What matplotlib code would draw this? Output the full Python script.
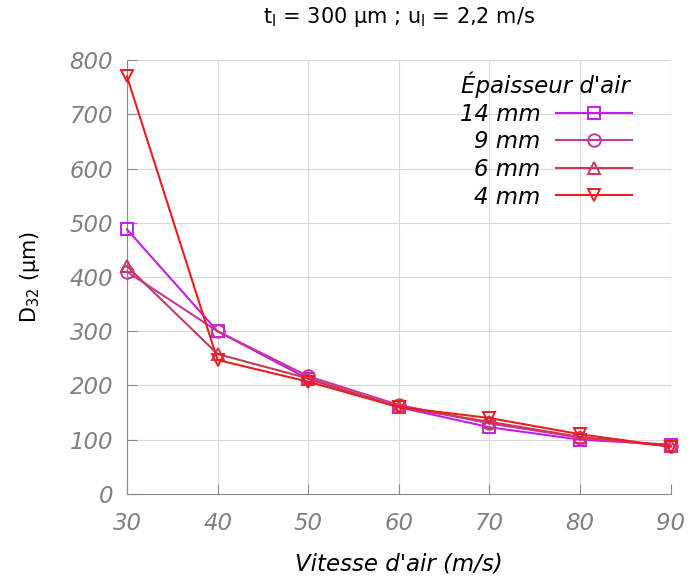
import matplotlib
matplotlib.use("Agg")
import matplotlib.pyplot as plt

vitesse = [30, 40, 50, 60, 70, 80, 90]
d32_14mm = [488, 300, 212, 160, 123, 100, 91]
d32_9mm = [410, 300, 217, 164, 130, 104, 88]
d32_6mm = [420, 258, 213, 160, 133, 105, 88]
d32_4mm = [770, 247, 207, 160, 140, 110, 87]

series = [
    ("14 mm", d32_14mm, "#c21ef0", "s"),
    ("9 mm", d32_9mm, "#c8379a", "o"),
    ("6 mm", d32_6mm, "#c83a5c", "^"),
    ("4 mm", d32_4mm, "#ee1c1c", "v"),
]

fig = plt.figure(figsize=(6.9, 5.79), dpi=100)
ax = fig.add_axes([0.184, 0.147, 0.788, 0.749])

for nom, vals, col, mk in series:
    ax.plot(vitesse, vals, color=col, lw=1.5, marker=mk, ms=9,
            mfc="none", mec=col, mew=1.4, label=nom, clip_on=False, zorder=3)

ax.set_xlim(30, 90)
ax.set_ylim(0, 800)
ax.set_xticks(vitesse)
ax.set_yticks(range(0, 801, 100))
ax.grid(color="#d8d8d8", lw=0.8)
ax.set_axisbelow(True)
for s in ("top", "right"):
    ax.spines[s].set_visible(False)
for s in ("left", "bottom"):
    ax.spines[s].set_color("#8a8a8a")
ax.tick_params(direction="in", length=7, color="#8a8a8a", labelcolor="#808080",
               labelsize=16.5)
ax.tick_params(axis="x", pad=13)
ax.tick_params(axis="y", pad=10)
for lab in ax.get_xticklabels() + ax.get_yticklabels():
    lab.set_fontstyle("italic")

ax.set_xlabel("Vitesse d'air (m/s)", fontsize=16.5, style="italic", labelpad=13)
ax.set_ylabel(r"D$_\mathregular{32}$ (µm)", fontsize=15, labelpad=20)
ax.set_title(r"t$_\mathregular{l}$ = 300 µm ; u$_\mathregular{l}$ = 2,2 m/s",
             fontsize=15, pad=27)

leg = ax.legend(title="Épaisseur d'air", frameon=False, markerfirst=False,
                loc="upper right", bbox_to_anchor=(0.95, 1.0),
                prop={"size": 16.5, "style": "italic"}, handlelength=3.3,
                handletextpad=0.7, labelspacing=0.2, borderaxespad=0.1)
leg.get_title().set_fontsize(16.5)
leg.get_title().set_fontstyle("italic")
for t in leg.get_texts():
    t.set_ha("right")

fig.savefig("out.png", dpi=100)
